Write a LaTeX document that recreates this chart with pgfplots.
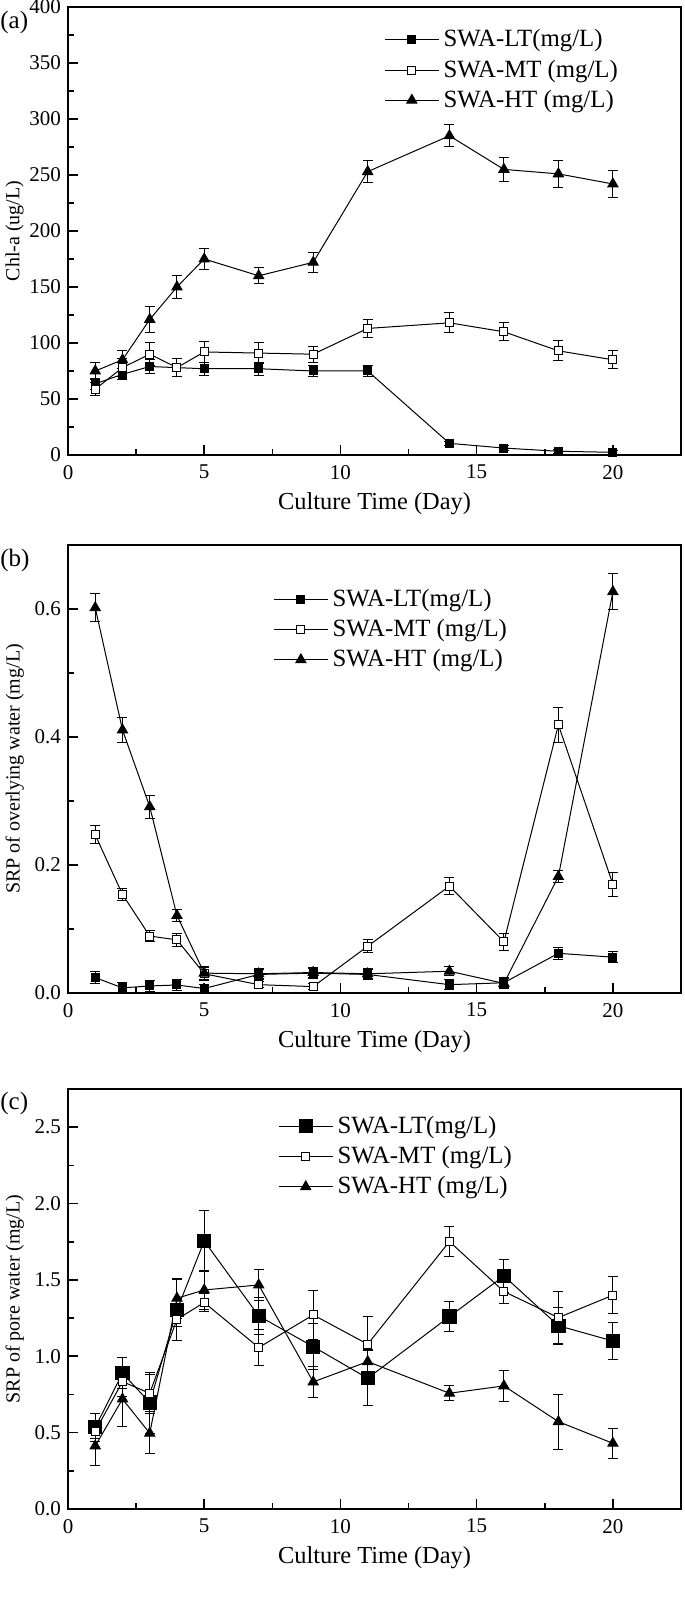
\documentclass[border=0pt]{standalone}
\usepackage{fontspec}
\setmainfont{Liberation Serif}
\usepackage{pgfplots}
\pgfplotsset{compat=1.18}

\pgfplotsset{
  panel/.style={
    scale only axis, width=306.5pt, anchor=south west,
    xmin=0, xmax=22.5,
    xtick={0,5,...,20}, minor x tick num=1,
    tick align=inside, xtick pos=bottom, ytick pos=left,
    axis line style={line width=0.9pt},
    major tick length=5pt, minor tick length=3pt,
    every tick/.style={black, line width=0.8pt},
    tick label style={font=\fontsize{10.5}{12}\selectfont},
    xticklabel style={yshift=-1.5pt},
    label style={font=\fontsize{12.2}{14}\selectfont},
    every axis y label/.style={at={(axis description cs:-0.087,0.5)}, rotate=90, anchor=center},
    /pgf/number format/assume math mode=true,
    xlabel={Culture Time (Day)},
    legend style={draw=none, fill=none, font=\fontsize{12.4}{14}\selectfont,
      anchor=north west, row sep=1pt},
    legend cell align=left,
    legend image code/.code={\draw[mark repeat=2,mark phase=2] plot coordinates {(0cm,0cm) (0.47cm,0cm) (0.95cm,0cm)};},
    every axis plot/.append style={black, line width=0.5pt,
      error bars/y dir=both, error bars/y explicit,
      error bars/error bar style={line width=0.5pt, black},
      error bars/error mark options={black, line width=0.5pt, mark size=2.5pt, rotate=90}},
  },
  lt/.style={mark=square*, mark size=2pt, mark options={solid, fill=black}},
  mt/.style={mark=square*, mark size=2pt, mark options={solid, fill=white}},
  ht/.style={mark=triangle*, mark size=2.9pt, mark options={solid, fill=black}},
}

\begin{document}
\begin{tikzpicture}
\useasboundingbox (0,0) rectangle (342.5pt,798.5pt);

% (a) Chl-a
\begin{axis}[panel, height=224pt, at={(34pt,571pt)},
  ymin=0, ymax=400, ytick={0,50,...,400}, minor y tick num=1,
  ylabel={Chl-a (ug/L)},
  legend style={at={(rel axis cs:0.506,0.968)}}]
\addplot[lt] coordinates {
 (1,63.6) +- (0,5) (2,72) +- (0,5) (3,79) +- (0,6) (4,78) +- (0,8)
 (5,77) +- (0,6) (7,77) +- (0,6) (9,75) +- (0,5) (11,75) +- (0,5)
 (14,10.4) +- (0,2) (16,6.2) +- (0,2) (18,3.3) +- (0,2) (20,2.4) +- (0,2)};
\addlegendentry{SWA-LT(mg/L)}
\addplot[mt] coordinates {
 (1,58.8) +- (0,6) (2,78) +- (0,8) (3,90) +- (0,10) (4,78) +- (0,8)
 (5,92) +- (0,9) (7,91) +- (0,9) (9,90) +- (0,7) (11,113) +- (0,8)
 (14,118) +- (0,9) (16,110) +- (0,8) (18,93) +- (0,9) (20,85) +- (0,8)};
\addlegendentry{SWA-MT (mg/L)}
\addplot[ht] coordinates {
 (1,75) +- (0,8) (2,85) +- (0,8) (3,121) +- (0,12) (4,150) +- (0,10)
 (5,175) +- (0,9) (7,160) +- (0,7) (9,172) +- (0,9) (11,253) +- (0,10)
 (14,285) +- (0,10) (16,255) +- (0,11) (18,251) +- (0,12) (20,242) +- (0,12)};
\addlegendentry{SWA-HT (mg/L)}
\end{axis}

% (b) SRP overlying water
\begin{axis}[panel, height=224pt, at={(34pt,302pt)},
  ymin=0, ymax=0.7, ytick={0,0.2,0.4,0.6}, minor y tick num=1,
  yticklabel style={/pgf/number format/.cd, fixed, fixed zerofill, precision=1},
  ylabel={SRP of overlying water (mg/L)},
  legend style={at={(rel axis cs:0.325,0.92)}}]
\addplot[lt] coordinates {
 (1,0.024) +- (0,0.009) (2,0.008) +- (0,0.008) (3,0.011) +- (0,0.008) (4,0.0125) +- (0,0.008)
 (5,0.007) +- (0,0.007) (7,0.029) +- (0,0.008) (9,0.031) +- (0,0.008) (11,0.029) +- (0,0.008)
 (14,0.013) +- (0,0.008) (16,0.016) +- (0,0.008) (18,0.062) +- (0,0.009) (20,0.056) +- (0,0.009)};
\addlegendentry{SWA-LT(mg/L)}
\addplot[mt] coordinates {
 (1,0.247) +- (0,0.014) (2,0.154) +- (0,0.01) (3,0.089) +- (0,0.008) (4,0.083) +- (0,0.01)
 (5,0.030) +- (0,0.01) (7,0.013) +- (0,0.005) (9,0.010) +- (0,0.005) (11,0.073) +- (0,0.01)
 (14,0.167) +- (0,0.013) (16,0.080) +- (0,0.013) (18,0.419) +- (0,0.027) (20,0.170) +- (0,0.019)};
\addlegendentry{SWA-MT (mg/L)}
\addplot[ht] coordinates {
 (1,0.602) +- (0,0.022) (2,0.411) +- (0,0.02) (3,0.291) +- (0,0.018) (4,0.121) +- (0,0.01)
 (5,0.031) +- (0,0.01) (7,0.030) +- (0,0.008) (9,0.032) +- (0,0.008) (11,0.030) +- (0,0.008)
 (14,0.034) +- (0,0.007) (16,0.015) +- (0,0.008) (18,0.182) +- (0,0.01) (20,0.627) +- (0,0.028)};
\addlegendentry{SWA-HT (mg/L)}
\end{axis}

% (c) SRP pore water
\begin{axis}[panel, height=210pt, at={(34pt,44pt)},
  ymin=0, ymax=2.75, ytick={0,0.5,...,2.5}, minor y tick num=1,
  yticklabel style={/pgf/number format/.cd, fixed, fixed zerofill, precision=1},
  ylabel={SRP of pore water (mg/L)},
  legend style={at={(rel axis cs:0.333,0.955)}}]
\addplot[lt, mark size=3.3pt] coordinates {
 (1,0.535) +- (0,0.09) (2,0.889) +- (0,0.1) (3,0.697) +- (0,0.2) (4,1.303) +- (0,0.2)
 (5,1.755) +- (0,0.2) (7,1.264) +- (0,0.12) (9,1.063) +- (0,0.15) (11,0.856) +- (0,0.18)
 (14,1.26) +- (0,0.1) (16,1.526) +- (0,0.11) (18,1.20) +- (0,0.12) (20,1.10) +- (0,0.12)};
\addlegendentry{SWA-LT(mg/L)}
\addplot[mt] coordinates {
 (1,0.51) +- (0,0.05) (2,0.834) +- (0,0.1) (3,0.758) +- (0,0.12) (4,1.242) +- (0,0.05)
 (5,1.352) +- (0,0.06) (7,1.057) +- (0,0.12) (9,1.271) +- (0,0.16) (11,1.079) +- (0,0.18)
 (14,1.751) +- (0,0.1) (16,1.424) +- (0,0.08) (18,1.253) +- (0,0.17) (20,1.40) +- (0,0.12)};
\addlegendentry{SWA-MT (mg/L)}
\addplot[ht] coordinates {
 (1,0.413) +- (0,0.13) (2,0.72) +- (0,0.18) (3,0.496) +- (0,0.13) (4,1.38) +- (0,0.13)
 (5,1.434) +- (0,0.13) (7,1.467) +- (0,0.1) (9,0.832) +- (0,0.1) (11,0.965) +- (0,0.08)
 (14,0.758) +- (0,0.05) (16,0.806) +- (0,0.1) (18,0.572) +- (0,0.18) (20,0.43) +- (0,0.1)};
\addlegendentry{SWA-HT (mg/L)}
\end{axis}

\node[anchor=west, font=\fontsize{12.5}{14}\selectfont, inner sep=0pt] at (0pt,787pt) {(a)};
\node[anchor=west, font=\fontsize{12.5}{14}\selectfont, inner sep=0pt] at (0pt,518.5pt) {(b)};
\node[anchor=west, font=\fontsize{12.5}{14}\selectfont, inner sep=0pt] at (0pt,247pt) {(c)};
\end{tikzpicture}
\end{document}
